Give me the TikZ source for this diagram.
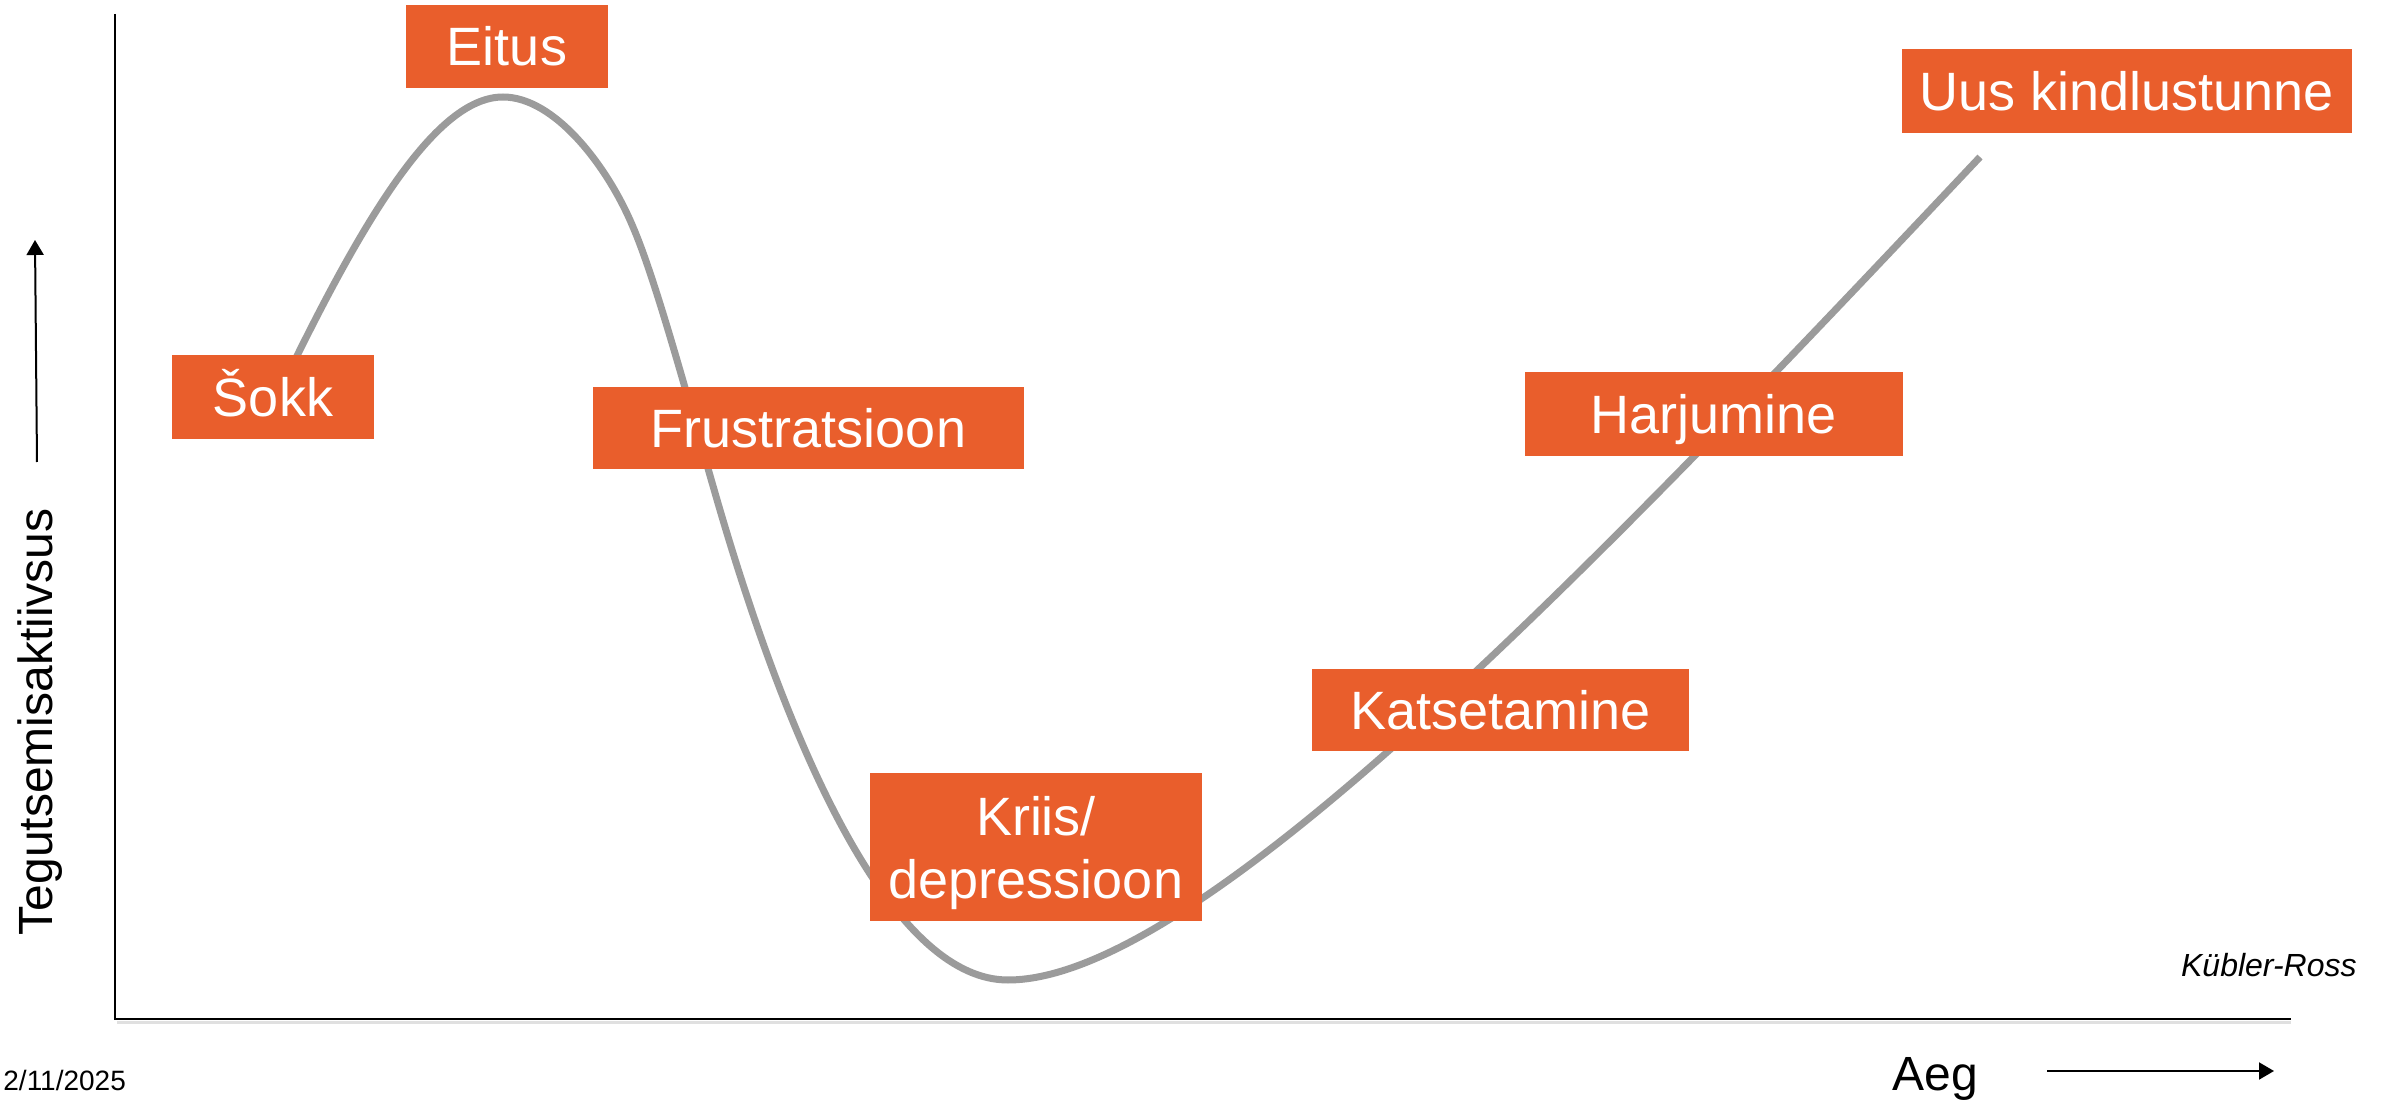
\documentclass[tikz,border=0pt]{standalone}
\usepackage{fontspec}
\setmainfont{Liberation Sans}
\usetikzlibrary{arrows.meta}
\definecolor{stageorange}{RGB}{233,94,44}
\definecolor{curvegray}{RGB}{155,155,155}
\begin{document}
\begin{tikzpicture}[x=0.5pt,y=-0.5pt,
  stagebox/.style={fill=stageorange, text=white, inner sep=0pt,
    font=\fontsize{27}{31.5}\selectfont, text height=19.5pt, text depth=0pt},
  boxline/.style={text=white, inner sep=0pt, anchor=base,
    font=\fontsize{27}{31.5}\selectfont},
  axisline/.style={line width=1.25pt, black},
  dirarrow/.style={line width=1pt, -{Triangle[length=7.5pt,width=8.5pt]}},
  axislabel/.style={inner sep=0pt, font=\fontsize{24}{28}\selectfont},
]
\useasboundingbox (0,0) rectangle (2390,1101);
\fill[white] (0,0) rectangle (2390,1101);

% axes
\coordinate (ytop) at (115,14);
\coordinate (origin) at (115,1019);
\coordinate (xend) at (2291,1019);
\coordinate (shadowstart) at (117,1022.5);
\coordinate (shadowend) at (2291,1022.5);
\draw[black!12, line width=1.5pt] (shadowstart) -- (shadowend);
\draw[axisline] (ytop) -- (origin) -- (xend);

% change curve
\draw[curvegray, line width=3.5pt]
  (292,366) .. controls (371.5,204) and (440,97) .. (503,97)
  .. controls (555,97) and (608,167) .. (633,227)
  .. controls (658,285) and (695,425) .. (720,510)
  .. controls (800,782) and (900,980) .. (1008,980)
  .. controls (1200,980) and (1600,560) .. (1980,157);

% stage boxes
\node[stagebox, minimum width=101pt, minimum height=42pt] (sokk) at (273,397) {Šokk};
\node[stagebox, minimum width=101pt, minimum height=41.5pt] (eitus) at (507,46.5) {Eitus};
\node[stagebox, minimum width=215.5pt, minimum height=41pt] (frustr) at (808.5,428) {Frustratsioon};
\node[stagebox, minimum width=166pt, minimum height=74pt] (kriis) at (1036,847) {};
\node[boxline] (kriisA) at (1036,835) {Kriis/};
\node[boxline] (kriisB) at (1036,898) {depressioon};
\node[stagebox, minimum width=188.5pt, minimum height=41pt] (katse) at (1500.5,710) {Katsetamine};
\node[stagebox, minimum width=189pt, minimum height=42pt] (harju) at (1714,414) {Harjumine};
\node[stagebox, minimum width=225pt, minimum height=42pt] (uus) at (2127,91) {Uus kindlustunne};

% axis labels and direction arrows
\node[axislabel, rotate=90, anchor=base] (ylabel) at (52,722) {Tegutsemisaktiivsus};
\node[axislabel, anchor=base west] (aeg) at (1892,1090) {Aeg};
\coordinate (yarrowstart) at (37,462);
\coordinate (yarrowend) at (35,240);
\draw[dirarrow] (yarrowstart) -- (yarrowend);
\coordinate (xarrowstart) at (2047,1071);
\coordinate (xarrowend) at (2274,1071);
\draw[dirarrow] (xarrowstart) -- (xarrowend);

% source and date
\node[inner sep=0pt, anchor=base east, font=\fontsize{16}{19}\selectfont\itshape] (kr) at (2357,976) {Kübler-Ross};
\node[inner sep=0pt, anchor=base west, font=\fontsize{14}{16}\selectfont] (date) at (3,1090) {2/11/2025};
\end{tikzpicture}
\end{document}
